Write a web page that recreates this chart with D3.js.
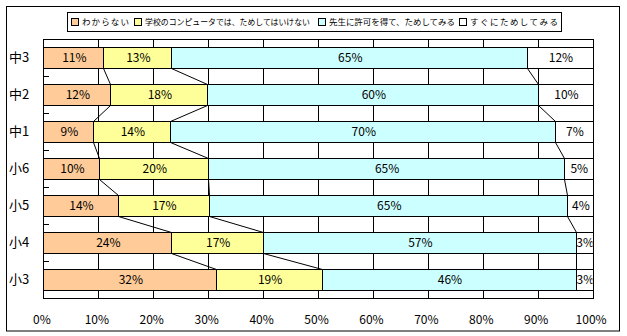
<!DOCTYPE html>
<html><head><meta charset="utf-8">
<script src="https://cdn.jsdelivr.net/npm/d3@7"></script>
<style>html,body{margin:0;padding:0;background:#fff;}svg{display:block;}</style>
</head><body>
<svg id="c" width="627" height="336"></svg>
<script>
const categories = ["中3","中2","中1","小6","小5","小4","小3"];
const seriesNames = ["わからない","学校のコンピュータでは、ためしてはいけない","先生に許可を得て、ためしてみる","すぐにためしてみる"];
const seriesColors = ["#FFCC99","#FFFF99","#CCFFFF","#FFFFFF"];
const wakaranai   = [10.9, 12.2,  9.1, 10.2, 13.5, 23.3, 31.5];
const ikenai      = [12.4, 17.7, 14.0, 19.8, 16.7, 16.7, 19.2];
const kyoka       = [64.8, 60.3, 70.1, 64.8, 65.2, 56.9, 46.3];
const sugu        = [11.9,  9.9,  6.8,  5.2,  4.6,  3.1,  3.0];
const labels = [
  ["11%","12%","9%","10%","14%","24%","32%"],
  ["13%","18%","14%","20%","17%","17%","19%"],
  ["65%","60%","70%","65%","65%","57%","46%"],
  ["12%","10%","7%","5%","4%","3%","3%"]
];
const xTicks = [0,0.1,0.2,0.3,0.4,0.5,0.6,0.7,0.8,0.9,1.0];
const legendX = [71, 134, 318, 459];
const legendTextW = [47, 165, 126, 88];

const keys = ["s0","s1","s2","s3"];
const rows = categories.map((c,i)=>({cat:c,s0:wakaranai[i],s1:ikenai[i],s2:kyoka[i],s3:sugu[i]}));
const stacked = d3.stack().keys(keys).offset(d3.stackOffsetExpand)(rows);

const svg = d3.select("#c");
const L=43.4, R=592.6, T=39, B=298;
const x = d3.scaleLinear().domain([0,1]).range([L,R]);
const y = d3.scaleBand().domain(categories).range([T,B]).paddingInner(0.42).paddingOuter(0.21);
const px = v => Math.round(v)+0.5;

svg.append("rect").attr("x",0).attr("y",0).attr("width",627).attr("height",336).attr("fill","#fff");
svg.append("rect").attr("x",6.5).attr("y",6.5).attr("width",613).attr("height",324.5)
  .attr("fill","none").attr("stroke","#000");

svg.append("rect").attr("x",px(L)).attr("y",px(T)).attr("width",px(R)-px(L)).attr("height",px(B)-px(T))
  .attr("fill","#fff").attr("stroke","none");

svg.append("g").selectAll("line").data(xTicks.slice(1,-1)).join("line")
  .attr("x1",d=>px(x(d))).attr("x2",d=>px(x(d))).attr("y1",px(T)).attr("y2",px(B))
  .attr("stroke","#000").attr("shape-rendering","crispEdges");

const bh = y.bandwidth();
stacked.forEach((layer,si)=>{
  svg.append("g").selectAll("rect").data(layer).join("rect")
    .attr("x",d=>px(x(d[0]))).attr("width",d=>px(x(d[1]))-px(x(d[0])))
    .attr("y",d=>px(y(d.data.cat))).attr("height",Math.round(bh))
    .attr("fill",seriesColors[si]).attr("stroke","#000").attr("shape-rendering","crispEdges");
});

for (let k=0;k<3;k++){
  const layer = stacked[k];
  for (let i=0;i<categories.length-1;i++){
    svg.append("line")
      .attr("x1",px(x(layer[i][1]))).attr("y1",px(y(categories[i]))+Math.round(bh))
      .attr("x2",px(x(layer[i+1][1]))).attr("y2",px(y(categories[i+1])))
      .attr("stroke","#000").attr("stroke-width",1);
  }
}

svg.append("clipPath").attr("id","pc").append("rect").attr("x",L).attr("y",T).attr("width",R-L).attr("height",B-T);
const lg = svg.append("g").attr("clip-path","url(#pc)");
stacked.forEach((layer,si)=>{
  lg.append("g").selectAll("text").data(layer).join("text")
    .attr("x",d=>(x(d[0])+x(d[1]))/2+1).attr("y",d=>y(d.data.cat)+bh/2)
    .attr("dy","0.36em").attr("text-anchor","middle")
    .attr("font-family","'Noto Sans CJK JP','DejaVu Sans',sans-serif").attr("font-size",12)
    .attr("fill","#000").text((d,i)=>labels[si][i]);
});

svg.append("rect").attr("x",px(L)).attr("y",px(T)).attr("width",px(R)-px(L)).attr("height",px(B)-px(T))
  .attr("fill","none").attr("stroke","#000").attr("shape-rendering","crispEdges");

const bounds = d3.range(1,categories.length).map(i=>T+y.step()*i);
svg.append("g").selectAll("line").data(bounds).join("line")
  .attr("x1",px(L)).attr("x2",px(L)+5).attr("y1",d=>px(d)).attr("y2",d=>px(d))
  .attr("stroke","#000").attr("shape-rendering","crispEdges");

svg.append("g").selectAll("text").data(categories).join("text")
  .attr("x",9).attr("y",d=>y(d)+bh/2).attr("dy","0.36em")
  .attr("font-family","'Noto Sans CJK JP',sans-serif").attr("font-size",13).attr("fill","#000")
  .text(d=>d);

svg.append("g").selectAll("text").data(xTicks).join("text")
  .attr("x",d=>x(d)-1.5).attr("y",320).attr("dy","0.36em").attr("text-anchor","middle")
  .attr("font-family","'Noto Sans CJK JP','DejaVu Sans',sans-serif").attr("font-size",12).attr("fill","#000")
  .text(d=>d3.format(".0%")(d));

svg.append("rect").attr("x",67.5).attr("y",12.5).attr("width",494).attr("height",18.5)
  .attr("fill","#fff").attr("stroke","#000").attr("shape-rendering","crispEdges");
const leg = svg.append("g").selectAll("g").data(seriesNames).join("g");
leg.append("rect").attr("x",(d,i)=>legendX[i]+0.5).attr("y",18.5).attr("width",7).attr("height",7)
  .attr("fill",(d,i)=>seriesColors[i]).attr("stroke","#000").attr("shape-rendering","crispEdges");
leg.append("text").attr("x",(d,i)=>legendX[i]+11).attr("y",22).attr("dy","0.36em")
  .attr("font-family","'Noto Sans CJK JP',sans-serif").attr("font-size",8.5).attr("fill","#000")
  .attr("textLength",(d,i)=>legendTextW[i]).attr("lengthAdjust",(d,i)=>i===1?"spacingAndGlyphs":"spacing")
  .text(d=>d);
</script>
</body></html>
